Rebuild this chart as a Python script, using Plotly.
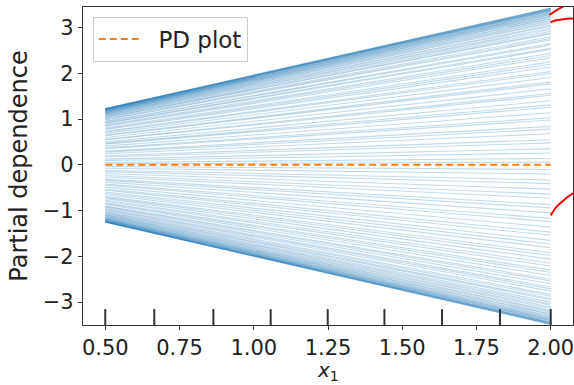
import plotly.graph_objects as go

# ---------------- data ----------------
grid_x = [0.5, 2.0]

ice_start_pos = [1.232, 1.229, 1.227, 1.224, 1.222, 1.219, 1.216, 1.214, 1.21, 1.206,
                 1.203, 1.198, 1.195, 1.189, 1.184, 1.18, 1.172, 1.166, 1.161, 1.152,
                 1.146, 1.137, 1.13, 1.118, 1.112, 1.098, 1.09, 1.074, 1.066, 1.051,
                 1.036, 1.029, 1.008, 0.993, 0.981, 0.952, 0.941, 0.918, 0.906, 0.877,
                 0.859, 0.842, 0.81, 0.79, 0.771, 0.735, 0.719, 0.688, 0.652, 0.637,
                 0.598, 0.561, 0.548, 0.503, 0.47, 0.452, 0.41, 0.371, 0.352, 0.301,
                 0.279, 0.243, 0.198, 0.171, 0.126, 0.094, 0.052, 0.021]
ice_end_pos = [3.43, 3.42, 3.42, 3.41, 3.40, 3.39, 3.39, 3.38, 3.37, 3.36,
               3.35, 3.33, 3.32, 3.31, 3.29, 3.28, 3.26, 3.24, 3.23, 3.20,
               3.19, 3.16, 3.14, 3.11, 3.09, 3.05, 3.03, 2.99, 2.96, 2.92,
               2.88, 2.86, 2.80, 2.76, 2.73, 2.65, 2.62, 2.55, 2.52, 2.44,
               2.39, 2.34, 2.25, 2.20, 2.14, 2.04, 2.00, 1.91, 1.81, 1.77,
               1.66, 1.56, 1.52, 1.40, 1.31, 1.26, 1.14, 1.03, 0.98, 0.84,
               0.78, 0.68, 0.55, 0.48, 0.35, 0.26, 0.14, 0.06]
ice_start_neg = [-1.255, -1.253, -1.25, -1.248, -1.245, -1.242, -1.239, -1.235, -1.232, -1.227,
                 -1.223, -1.218, -1.212, -1.207, -1.199, -1.193, -1.186, -1.177, -1.171, -1.16,
                 -1.151, -1.142, -1.129, -1.118, -1.104, -1.094, -1.078, -1.062, -1.049, -1.03,
                 -1.016, -0.993, -0.975, -0.96, -0.934, -0.912, -0.899, -0.868, -0.845, -0.827,
                 -0.794, -0.772, -0.739, -0.711, -0.69, -0.652, -0.621, -0.594, -0.553, -0.528,
                 -0.487, -0.446, -0.421, -0.378, -0.339, -0.311, -0.264, -0.231, -0.19, -0.148,
                 -0.117, -0.073, -0.036]
ice_end_neg = [-3.49, -3.48, -3.48, -3.47, -3.46, -3.45, -3.45, -3.44, -3.43, -3.41,
               -3.40, -3.39, -3.37, -3.36, -3.34, -3.32, -3.30, -3.27, -3.26, -3.23,
               -3.20, -3.18, -3.14, -3.11, -3.07, -3.04, -3.00, -2.95, -2.92, -2.87,
               -2.83, -2.76, -2.71, -2.67, -2.60, -2.54, -2.50, -2.42, -2.35, -2.30,
               -2.21, -2.15, -2.06, -1.98, -1.92, -1.81, -1.73, -1.65, -1.54, -1.47,
               -1.36, -1.24, -1.17, -1.05, -0.94, -0.87, -0.73, -0.64, -0.53, -0.41,
               -0.33, -0.20, -0.10]

pd_values = [0.0, 0.0]

deciles = [0.5, 0.665, 0.864, 1.057, 1.249, 1.44, 1.634, 1.829, 2.0]

x_ticks = [0.5, 0.75, 1.0, 1.25, 1.5, 1.75, 2.0]
y_ticks = [-3, -2, -1, 0, 1, 2, 3]

arc1_x = [1.995, 2.019, 2.049, 2.079]
arc1_y = [3.275, 3.377, 3.485, 3.55]
arc2_x = [2.0, 2.018, 2.049, 2.079]
arc2_y = [3.117, 3.16, 3.19, 3.20]
arc3_x = [2.0, 2.018, 2.039, 2.059, 2.079]
arc3_y = [-1.104, -0.931, -0.80, -0.693, -0.606]

# ---------------- figure ----------------
fig = go.Figure()
ice_color = "rgba(31,119,180,0.27)"
for s, e in list(zip(ice_start_pos, ice_end_pos)) + list(zip(ice_start_neg, ice_end_neg)):
    fig.add_trace(go.Scatter(x=grid_x, y=[s, e], mode="lines",
                             line=dict(color=ice_color, width=1.1),
                             showlegend=False, hoverinfo="skip"))

fig.add_trace(go.Scatter(x=grid_x, y=pd_values, mode="lines", name="\u00a0\u00a0PD plot",
                         line=dict(color="#ff7f0e", width=2, dash="7px,4px")))

for ax_, ay_ in [(arc1_x, arc1_y), (arc2_x, arc2_y), (arc3_x, arc3_y)]:
    fig.add_trace(go.Scatter(x=ax_, y=ay_, mode="lines", line=dict(color="red", width=2, shape="spline"),
                             showlegend=False, hoverinfo="skip"))

for d in deciles:
    fig.add_shape(type="line", xref="x", yref="y domain", x0=d, x1=d, y0=0, y1=0.05,
                  line=dict(color="#333333", width=2))

font_family = "DejaVu Sans"
fig.update_layout(
    width=574, height=385,
    margin=dict(l=83, r=1, t=7, b=60),
    plot_bgcolor="white", paper_bgcolor="white",
    font=dict(family=font_family, size=22, color="#222222"),
    legend=dict(x=0.02, y=0.97, xanchor="left", yanchor="top",
                bordercolor="#cccccc", borderwidth=1, bgcolor="rgba(255,255,255,0.8)",
                font=dict(size=23), itemwidth=40),
)
fig.add_annotation(text="<i>x</i><sub>1</sub>", xref="paper", yref="paper", x=0.5, y=0,
                   xanchor="center", yanchor="top", yshift=-31, showarrow=False,
                   font=dict(size=20, family=font_family, color="#222222"))
fig.update_xaxes(range=[0.425, 2.075], tickvals=x_ticks, ticktext=[f"{v:.2f}" for v in x_ticks],
                 ticks="outside", ticklen=4, tickcolor="#333", showgrid=False, zeroline=False,
                 tickfont=dict(size=21), ticklabeloverflow="allow",
                 showline=True, linecolor="#333", linewidth=1.2, mirror=True)
fig.update_yaxes(range=[-3.5, 3.45], tickvals=y_ticks, ticks="outside", ticklen=4, tickcolor="#333",
                 showgrid=False, zeroline=False, tickfont=dict(size=21),
                 showline=True, linecolor="#333", linewidth=1.2, mirror=True,
                 title=dict(text="Partial dependence", standoff=8, font=dict(size=24)))

fig.write_html("out.html")
